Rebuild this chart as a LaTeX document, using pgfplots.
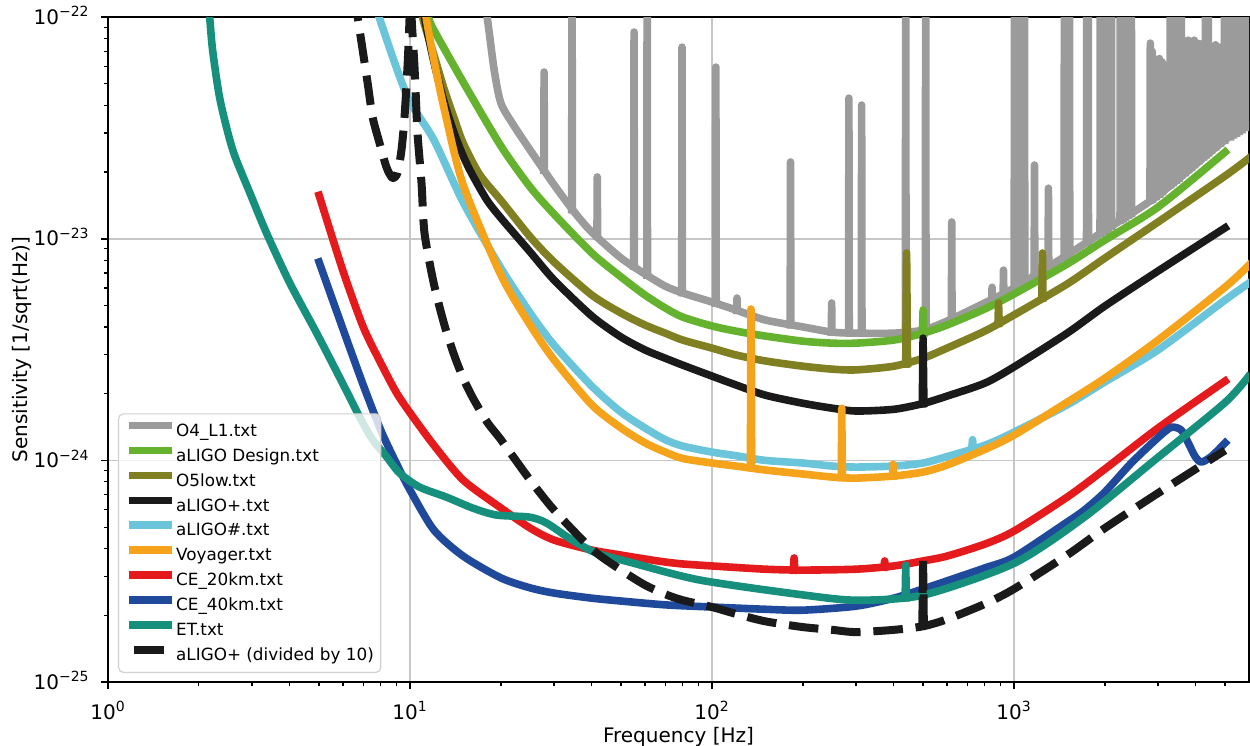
\documentclass[border=0pt]{standalone}
\usepackage{fontspec}
\setmainfont{DejaVu Sans}
\usepackage{pgfplots}
\pgfplotsset{compat=1.18}
\definecolor{cgray}{RGB}{155,155,155}
\definecolor{cgreen}{RGB}{101,178,46}
\definecolor{colive}{RGB}{128,128,34}
\definecolor{cblack}{RGB}{26,26,26}
\definecolor{clblue}{RGB}{107,197,218}
\definecolor{corange}{RGB}{245,163,26}
\definecolor{cred}{RGB}{228,26,28}
\definecolor{cblue}{RGB}{31,74,155}
\definecolor{cteal}{RGB}{22,144,124}
\pgfplotsset{dashleg/.style={legend image code/.code={\draw[##1, solid, line cap=butt] (2.5pt,3.1pt) -- (17.5pt,3.1pt);}},
  spk/.style={forget plot, sharp plot, unbounded coords=jump}}
\begin{document}
\begin{tikzpicture}
\begin{axis}[
  name=ax,
  width=570.5pt, height=332.5pt, scale only axis,
  xmode=log, ymode=log,
  xmin=1, xmax=6000, ymin=1e-25, ymax=1e-22,
  axis line style={line width=1pt},
  tick pos=left, tick align=outside,
  major tick length=3.5pt, minor tick length=2pt,
  tick style={black, line width=0.8pt},
  minor tick style={black, line width=0.6pt},
  xtick={1,10,100,1000},
  xticklabels={10\textsuperscript{0},10\textsuperscript{1},10\textsuperscript{2},10\textsuperscript{3}},
  minor xtick={2,3,4,5,6,7,8,9,20,30,40,50,60,70,80,90,200,300,400,500,600,700,800,900,2000,3000,4000,5000},
  ytick={1e-25,1e-24,1e-23,1e-22},
  yticklabels={10\textsuperscript{−25},10\textsuperscript{−24},10\textsuperscript{−23},10\textsuperscript{−22}},
  minor ytick={2e-25,3e-25,4e-25,5e-25,6e-25,7e-25,8e-25,9e-25,2e-24,3e-24,4e-24,5e-24,6e-24,7e-24,8e-24,9e-24,2e-23,3e-23,4e-23,5e-23,6e-23,7e-23,8e-23,9e-23},
  tick label style={font=\fontsize{10}{12}\selectfont},
  xticklabel style={anchor=base, inner sep=0pt, yshift=-15pt},
  yticklabel style={anchor=base east, inner sep=0pt, xshift=-5.5pt, yshift=-3.6pt},
  grid=major, major grid style={line width=0.8pt, black!22},
  xlabel={Frequency [Hz]}, ylabel={Sensitivity [1/sqrt(Hz)]},
  label style={font=\fontsize{10}{12}\selectfont},
  xlabel style={at={(axis description cs:0.5,-0.0902)}, anchor=base, inner sep=0pt},
  ylabel style={at={(axis description cs:-0.0841,0.5)}, anchor=north, inner sep=0pt},
  every axis plot/.append style={line width=3.8pt, line join=round, line cap=rect, smooth, tension=0.45},
  legend cell align=left,
  legend image code/.code={\draw[#1, line cap=butt] (0pt,3.1pt) -- (21.5pt,3.1pt);},
  legend style={at={(0.00876,0.01353)}, anchor=south west,
    font=\fontsize{8.4}{10}\selectfont,
    fill=white, fill opacity=0.8, text opacity=1, draw=black!18, line width=0.6pt,
    rounded corners=2.5pt, inner xsep=3.5pt, inner ysep=4pt, row sep=3.3pt,
    nodes={inner sep=0pt, text height=6.4pt, text depth=1.9pt},
    /tikz/every even column/.style={column sep=4.5pt}},
]
% ---------- O4_L1
\addplot[cgray] coordinates {
(17.5,1.13e-22)(18,1.00e-22)(19,5.77e-23)(20,4.09e-23)(22,3.26e-23)(25,2.51e-23)(30,1.75e-23)(35,1.32e-23)(40,1.07e-23)(50,8.18e-24)(60,6.93e-24)(70,6.11e-24)(80,5.69e-24)(100,5.18e-24)(120,4.77e-24)(150,4.30e-24)(200,4.00e-24)(250,3.79e-24)(300,3.75e-24)(400,3.75e-24)(500,3.87e-24)(600,4.25e-24)(800,5.13e-24)(1000,5.99e-24)(1500,8.44e-24)(2000,1.09e-23)(3000,1.57e-23)(5000,2.79e-23)(6000,3.26e-23)
};
\addlegendentry{O4\_L1.txt}
\addplot[cgray, spk] coordinates {
(27.73,2.04e-23)(27.8,5.65e-23)(27.87,2.04e-23)(27.9,nan)
(34.31,1.36e-23)(34.4,3e-22)(34.49,1.35e-23)(34.5,nan)
(41.6,1.03e-23)(41.7,1.90e-23)(41.8,1.03e-23)(41.9,nan)
(55.06,7.53e-24)(55.2,8.56e-23)(55.34,7.53e-24)(55.4,nan)
(60.85,6.86e-24)(61,3e-22)(61.15,6.85e-24)(61.2,nan)
(79.4,5.72e-24)(79.6,7.32e-23)(79.8,5.72e-24)(79.9,nan)
(102.74,5.13e-24)(103,5.95e-23)(103.26,5.13e-24)(103.4,nan)
(120.7,4.76e-24)(121,5.4e-24)(121.3,4.76e-24)(121.5,nan)
(181.5,4.10e-24)(182,2.22e-23)(182.5,4.09e-24)(183,nan)
(248.4,3.79e-24)(249,5.13e-24)(249.6,3.79e-24)(250,nan)
(283.3,3.77e-24)(284,4.31e-23)(284.7,3.77e-24)(285,nan)
(312.2,3.75e-24)(313,4.01e-23)(313.8,3.75e-24)(314,nan)
(436.9,3.78e-24)(438,3e-22)(439.1,3.78e-24)(440,nan)
(508.7,3.9e-24)(510,3e-22)(511.3,3.9e-24)(512,nan)
(620.5,4.35e-24)(622,1.19e-23)(623.5,4.35e-24)(624,nan)
(843.9,5.35e-24)(846,6.04e-24)(848.1,5.35e-24)(849,nan)
(920.7,5.65e-24)(923,7.22e-24)(925.3,5.65e-24)(926,nan)
(1001.5,5.99e-24)(1004,3e-22)(1006.5,6.0e-24)(1008,nan)
(1027.4,6.14e-24)(1030,3e-22)(1032.6,6.14e-24)(1034,nan)
(1040.4,6.21e-24)(1043,3e-22)(1045.6,6.21e-24)(1047,nan)
(1057.4,6.29e-24)(1060,3e-22)(1062.6,6.29e-24)(1064,nan)
(1080.3,6.41e-24)(1083,3e-22)(1085.7,6.41e-24)(1087,nan)
(1166,6.86e-24)(1169,2.15e-23)(1172,6.86e-24)(1174,nan)
(1296.7,7.38e-24)(1300,1.69e-23)(1303.3,7.38e-24)(1305,nan)
(1465.3,8.22e-24)(1469,3e-22)(1472.7,8.22e-24)(1474,nan)
(1493.3,8.43e-24)(1497,3e-22)(1500.7,8.43e-24)(1502,nan)
(1522.2,8.57e-24)(1526,3e-22)(1529.8,8.57e-24)(1531,nan)
(1738.6,9.64e-24)(1743,3e-22)(1747.4,9.64e-24)(1749,nan)
(1755.6,9.72e-24)(1760,3e-22)(1764.4,9.72e-24)(1766,nan)
(1927.2,1.06e-23)(1932,3e-22)(1936.8,1.06e-23)(1938,nan)
(1965,1.08e-23)(1970,3e-22)(1975,1.08e-23)(1977,nan)
(2002,1.094e-23)(2007,3e-22)(2012,1.094e-23)(2014,nan)
(2045,1.115e-23)(2050,3e-22)(2055,1.115e-23)(2057,nan)
(2095.7,1.14e-23)(2101,3e-22)(2106.3,1.14e-23)(2108,nan)
(2244.4,1.21e-23)(2250,3e-22)(2255.6,1.21e-23)(2258,nan)
(2284,1.23e-23)(2290,3e-22)(2296,1.23e-23)(2298,nan)
(2331.2,1.25e-23)(2337,3e-22)(2342.8,1.25e-23)(2345,nan)
(2384,1.28e-23)(2390,3e-22)(2396,1.28e-23)(2398,nan)
(2439.9,1.30e-23)(2446,3e-22)(2452.1,1.30e-23)(2455,nan)
(2820,1.49e-23)(2827,7.63e-23)(2834,1.49e-23)(2837,nan)
(2863,1.51e-23)(2870,7.0e-23)(2877,1.51e-23)(2880,nan)
(2943,1.55e-23)(2950,6.2e-23)(2957,1.55e-23)(2960,nan)
(3022,1.59e-23)(3030,6.5e-23)(3038,1.59e-23)(3041,nan)
(3089,1.63e-23)(3097,6.27e-23)(3105,1.63e-23)(3108,nan)
(3283,1.75e-23)(3291,3e-22)(3299,1.75e-23)(3302,nan)
(3352,1.79e-23)(3360,3e-22)(3368,1.79e-23)(3371,nan)
(3435,1.84e-23)(3444,3e-22)(3453,1.84e-23)(3456,nan)
(3501,1.88e-23)(3510,3e-22)(3519,1.88e-23)(3522,nan)
(3569,1.93e-23)(3578,3e-22)(3587,1.93e-23)(3590,nan)
(3671,1.99e-23)(3680,7.8e-23)(3689,1.99e-23)(3692,nan)
(3766,2.05e-23)(3775,7.87e-23)(3784,2.05e-23)(3788,nan)
(3850,2.10e-23)(3860,7.5e-23)(3870,2.10e-23)(3874,nan)
(3942,2.16e-23)(3952,7.87e-23)(3962,2.16e-23)(3966,nan)
(4080,2.25e-23)(4090,7.6e-23)(4100,2.25e-23)(4104,nan)
(4219,2.34e-23)(4230,7.63e-23)(4241,2.34e-23)(4245,nan)
(4299,2.39e-23)(4310,3e-22)(4321,2.39e-23)(4325,nan)
(4384,2.44e-23)(4395,3e-22)(4406,2.44e-23)(4410,nan)
(4489,2.51e-23)(4500,7.3e-23)(4511,2.51e-23)(4515,nan)
(4638,2.60e-23)(4650,7.5e-23)(4662,2.60e-23)(4666,nan)
(4803,2.70e-23)(4815,7.32e-23)(4827,2.70e-23)(4832,nan)
(4968,2.78e-23)(4980,3e-22)(4992,2.78e-23)(4996,nan)
(5183,2.88e-23)(5196,3e-22)(5209,2.88e-23)(5214,nan)
(5307,2.94e-23)(5320,3e-22)(5333,2.94e-23)(5338,nan)
(5426,3.0e-23)(5440,3e-22)(5454,3.0e-23)(5460,nan)
(5546,3.05e-23)(5560,3e-22)(5574,3.05e-23)(5580,nan)
(5678,3.11e-23)(5692,3e-22)(5706,3.11e-23)(5712,nan)
(5815,3.18e-23)(5830,3e-22)(5845,3.18e-23)(5850,nan)
(5945,3.24e-23)(5960,3e-22)(5975,3.24e-23)
};
% ---------- aLIGO Design
\addplot[cgreen] coordinates {
(11.2,1.2e-22)(11.5,1.00e-22)(12,8.74e-23)(15,5.09e-23)(20,2.62e-23)(25,1.71e-23)(30,1.29e-23)(40,8.62e-24)(50,6.72e-24)(60,5.57e-24)(70,4.87e-24)(80,4.43e-24)(100,4.04e-24)(120,3.83e-24)(150,3.64e-24)(200,3.45e-24)(250,3.38e-24)(300,3.38e-24)(400,3.49e-24)(500,3.75e-24)(600,4.08e-24)(800,4.82e-24)(1000,5.63e-24)(1500,7.69e-24)(2000,9.86e-24)(3000,1.39e-23)(5000,2.46e-23)
};
\addlegendentry{aLIGO Design.txt}
\addplot[cgreen, spk] coordinates {(497,3.74e-24)(500,4.77e-24)(503,3.76e-24)};
% ---------- O5low
\addplot[colive] coordinates {
(10.8,1.3e-22)(11.0,1.00e-22)(12,6.74e-23)(13,4.69e-23)(14,3.50e-23)(15,2.70e-23)(17,1.95e-23)(20,1.49e-23)(25,1.02e-23)(30,7.85e-24)(40,5.57e-24)(50,4.62e-24)(60,4.08e-24)(70,3.75e-24)(80,3.49e-24)(100,3.21e-24)(120,2.99e-24)(150,2.81e-24)(200,2.66e-24)(250,2.58e-24)(300,2.56e-24)(400,2.66e-24)(500,2.89e-24)(600,3.21e-24)(800,3.83e-24)(1000,4.53e-24)(1500,6.25e-24)(2000,8.18e-24)(3000,1.19e-23)(5000,1.92e-23)(6000,2.31e-23)
};
\addlegendentry{O5low.txt}
\addplot[colive, spk] coordinates {(438,2.72e-24)(441,8.62e-24)(444,2.73e-24)(445,nan)(885,4.15e-24)(889,5.13e-24)(893,4.17e-24)(895,nan)(1237,5.4e-24)(1242,8.62e-24)(1247,5.42e-24)};
% ---------- aLIGO+
\addplot[cblack] coordinates {
(11.0,1.3e-22)(11.17,1.00e-22)(12,6.27e-23)(13,4.09e-23)(14,3.00e-23)(15,2.36e-23)(16.1,1.94e-23)(18,1.49e-23)(20,1.24e-23)(25,8.71e-24)(30,6.51e-24)(40,4.48e-24)(50,3.60e-24)(60,3.15e-24)(70,2.89e-24)(80,2.69e-24)(100,2.40e-24)(120,2.19e-24)(150,1.97e-24)(200,1.81e-24)(250,1.72e-24)(300,1.67e-24)(400,1.70e-24)(500,1.805e-24)(600,1.95e-24)(800,2.23e-24)(1000,2.64e-24)(1500,3.75e-24)(2000,4.97e-24)(3000,7.15e-24)(5000,1.12e-23)
};
\addlegendentry{aLIGO+.txt}
\addplot[cblack, spk] coordinates {(497,1.80e-24)(500,3.56e-24)(503,1.81e-24)};
% ---------- aLIGO#
\addplot[clblue] coordinates {
(7.55,1.2e-22)(7.9,1.00e-22)(9,5.95e-23)(10,4.14e-23)(12,2.79e-23)(15,1.46e-23)(20,7.37e-24)(25,4.62e-24)(30,3.31e-24)(40,2.16e-24)(50,1.65e-24)(60,1.40e-24)(70,1.24e-24)(80,1.16e-24)(100,1.09e-24)(120,1.05e-24)(150,1.00e-24)(200,9.73e-25)(250,9.43e-25)(300,9.33e-25)(400,9.43e-25)(500,9.73e-25)(600,1.04e-24)(800,1.17e-24)(1000,1.34e-24)(1500,1.78e-24)(2000,2.26e-24)(3000,3.15e-24)(5000,5.29e-24)(6000,6.31e-24)
};
\addlegendentry{aLIGO\#.txt}
\addplot[clblue, spk] coordinates {(725,1.14e-24)(729,1.24e-24)(733,1.15e-24)};
% ---------- Voyager
\addplot[corange] coordinates {
(11.0,1.3e-22)(11.3,1.00e-22)(12,6.40e-23)(13,3.81e-23)(15,1.75e-23)(20,6.86e-24)(25,4.08e-24)(30,2.84e-24)(40,1.78e-24)(50,1.40e-24)(60,1.20e-24)(70,1.09e-24)(80,1.02e-24)(100,9.73e-25)(120,9.43e-25)(150,9.05e-25)(200,8.68e-25)(250,8.41e-25)(300,8.32e-25)(400,8.50e-25)(500,8.86e-25)(600,9.53e-25)(800,1.12e-24)(1000,1.30e-24)(1500,1.83e-24)(2000,2.35e-24)(3000,3.49e-24)(5000,6.05e-24)(6000,7.61e-24)
};
\addlegendentry{Voyager.txt}
\addplot[corange, spk] coordinates {(134,9.3e-25)(134.6,4.82e-24)(135.2,9.3e-25)(136,nan)(268,8.38e-25)(269,1.72e-24)(270,8.37e-25)(272,nan)(397,8.5e-25)(398,9.6e-25)(399,8.5e-25)};
% ---------- CE_20km
\addplot[cred] coordinates {
(5,1.57e-23)(6,7.15e-24)(7,4.00e-24)(8,2.75e-24)(9,2.03e-24)(10,1.64e-24)(12,1.17e-24)(15,8.15e-25)(20,6.10e-25)(25,4.95e-25)(30,4.37e-25)(40,3.94e-25)(50,3.74e-25)(60,3.59e-25)(70,3.48e-25)(80,3.41e-25)(100,3.34e-25)(150,3.23e-25)(200,3.20e-25)(300,3.23e-25)(400,3.34e-25)(500,3.52e-25)(600,3.70e-25)(800,4.19e-25)(1000,4.80e-25)(1500,6.83e-25)(2000,9.14e-25)(3000,1.40e-24)(5000,2.28e-24)
};
\addlegendentry{CE\_20km.txt}
\addplot[cred, spk] coordinates {(186,3.2e-25)(187,3.63e-25)(188,3.2e-25)(190,nan)(371,3.3e-25)(373,3.52e-25)(375,3.31e-25)};
% ---------- CE_40km
\addplot[cblue] coordinates {
(5,7.85e-24)(6,3.91e-24)(7,2.19e-24)(8,1.37e-24)(9,9.73e-25)(10,7.35e-25)(12,4.85e-25)(15,3.70e-25)(20,2.95e-25)(25,2.66e-25)(30,2.52e-25)(40,2.39e-25)(50,2.32e-25)(70,2.23e-25)(100,2.18e-25)(150,2.13e-25)(200,2.11e-25)(300,2.20e-25)(400,2.39e-25)(500,2.63e-25)(600,2.86e-25)(800,3.27e-25)(1000,3.66e-25)(1500,5.27e-25)(1711,5.97e-25)(2000,7.20e-25)(2445,9.73e-25)(3004,1.27e-24)(3317,1.41e-24)(3579,1.37e-24)(3775,1.20e-24)(3981,1.04e-24)(4168,9.83e-25)(4497,1.04e-24)(5003,1.20e-24)
};
\addlegendentry{CE\_40km.txt}
% ---------- ET
\addplot[cteal] coordinates {
(2.12,1.2e-22)(2.17,1.00e-22)(2.22,7.10e-23)(2.35,4.23e-23)(2.59,2.51e-23)(2.95,1.61e-23)(3.35,1.06e-23)(4.00,6.31e-24)(4.91,3.75e-24)(5.98,2.23e-24)(6.81,1.57e-24)(7.52,1.24e-24)(8.36,1.04e-24)(9.23,8.77e-25)(10.75,7.58e-25)(13.2,6.83e-25)(16.1,6.10e-25)(19.3,5.67e-25)(24.8,5.55e-25)(28.3,5.22e-25)(34.4,4.37e-25)(41.4,3.82e-25)(53.2,3.48e-25)(90.6,2.89e-25)(201,2.47e-25)(302,2.34e-25)(502,2.47e-25)(1004,3.44e-25)(1711,5.55e-25)(2914,1.00e-24)(4965,1.81e-24)(5960,2.38e-24)
};
\addlegendentry{ET.txt}
\addplot[cteal, spk] coordinates {(436,2.40e-25)(438,3.37e-25)(440,2.40e-25)};
% ---------- aLIGO+ / 10
\addplot[cblack, line width=4pt, line cap=butt, dash pattern=on 14.8pt off 6.4pt, dashleg] coordinates {
(6.5,1.3e-22)(6.71,1.00e-22)(6.97,7.10e-23)(7.24,5.04e-23)(7.52,3.54e-23)(7.93,2.70e-23)(8.36,2.10e-23)(8.75,1.88e-23)(9.09,1.98e-23)(9.37,2.51e-23)(9.59,3.54e-23)(9.81,5.95e-23)(9.96,9.69e-23)(10.03,1.5e-22)(10.12,1.00e-22)(10.35,5.95e-23)(10.59,3.00e-23)(10.92,1.78e-23)(11.17,1.06e-23)(12,6.25e-24)(13,4.08e-24)(14,2.99e-24)(15,2.35e-24)(16.1,1.93e-24)(18,1.49e-24)(20,1.24e-24)(25,8.15e-25)(30,5.97e-25)(40,3.98e-25)(50,3.20e-25)(60,2.74e-25)(70,2.49e-25)(80,2.34e-25)(100,2.18e-25)(120,2.03e-25)(150,1.88e-25)(200,1.77e-25)(250,1.72e-25)(300,1.68e-25)(400,1.72e-25)(500,1.785e-25)(600,1.92e-25)(800,2.25e-25)(1000,2.63e-25)(1500,3.74e-25)(2000,4.95e-25)(3000,7.12e-25)(5000,1.11e-24)
};
\addlegendentry{aLIGO+ (divided by 10)}
\addplot[cblack, spk, line width=4pt, line cap=butt, dash pattern=on 14.8pt off 2pt] coordinates {(497,1.78e-25)(500,3.55e-25)(503,1.79e-25)};
\end{axis}
\pgfresetboundingbox
\path[use as bounding box] ([xshift=-54pt,yshift=-32pt]ax.south west) rectangle ([xshift=0.5pt,yshift=8.5pt]ax.north east);
\end{tikzpicture}
\end{document}
